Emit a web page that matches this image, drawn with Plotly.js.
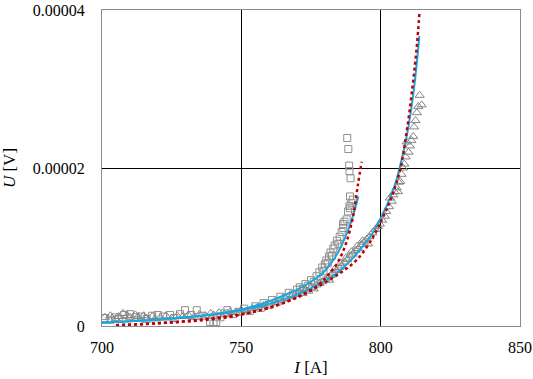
<!DOCTYPE html>
<html>
<head>
<meta charset="utf-8">
<script src="https://cdn.plot.ly/plotly-3.0.1.min.js"></script>
<style>
  html, body { margin: 0; padding: 0; background: #fff; }
  #myGraph { width: 533px; height: 379px; }
</style>
</head>
<body>
<div id="myGraph"></div>
<script>
// measured points, U in microvolt (converted to V below)
let squareI = [701, 703, 704.7, 706, 708, 710, 712, 714, 716, 718, 720, 722, 724.4, 726, 728, 729.8, 732, 734, 736, 738.8,
    740, 741, 742.5, 744, 745, 747, 749, 751, 753, 755, 757, 758, 760, 761, 763, 764, 766, 767, 768.5, 770,
    771, 772, 773, 774, 775, 776, 777, 778, 779, 779.5, 780, 780.5, 781, 781.5, 782, 782.5, 783, 783.5, 784.3, 784.8,
    785.3, 786, 786.6, 786.5, 787, 787.8, 788.3, 788.8, 789, 789.5, 789, 790, 789.2, 788.8, 788.7, 788.4, 788.0];
let squareU = [1.0, 0.8, 1.1, 0.9, 1.4, 1.5, 1.1, 1.2, 0.9, 1.3, 1.4, 1.2, 1.4, 1.0, 1.5, 2.0, 1.4, 2.0, 1.3, 0.5,
    0.3, 0.5, 1.1, 1.6, 2.0, 1.5, 1.8, 2.2, 1.9, 2.5, 2.3, 2.9, 2.7, 3.3, 3.1, 3.7, 3.6, 4.2, 4.0, 4.6,
    4.9, 4.7, 5.3, 5.1, 5.8, 5.6, 6.3, 6.8, 7.4, 7.0, 7.8, 8.3, 8.0, 8.8, 9.3, 8.9, 9.8, 10.2, 10.8, 10.4,
    11.3, 11.9, 12.4, 12.9, 13.2, 13.5, 14.5, 15.2, 14.9, 15.6, 16.4, 16.0, 18.7, 19.6, 20.3, 22.4, 23.8];

let triI = [701, 703, 705, 706, 707.5, 709, 710, 712, 713, 715, 716, 718, 719, 721, 723, 725, 727, 729, 731, 733,
    735, 737, 739, 740, 742, 744, 746, 748, 750, 752, 754, 756, 758, 760, 762, 764, 766, 768, 770, 771,
    772, 773, 774, 775, 776, 777, 778, 779, 780, 781, 781.5, 782, 783, 783.5, 784, 785, 785.5, 786, 787, 787.5,
    788, 789, 789.5, 790, 791, 791.5, 792, 793, 793.5, 794, 795, 795.5, 796, 797, 798, 799, 799.7, 800.5, 801.5, 802,
    803, 803.3, 804, 804.5, 805, 805.7, 806.2, 806.5, 807, 807.5, 808, 808.5, 809, 809.3, 810, 810.5, 811, 811.7, 812, 812.5,
    813, 813.5, 814, 814.7];
let triU = [1.1, 1.3, 0.9, 1.2, 1.6, 1.3, 1.1, 1.4, 1.2, 1.3, 1.0, 1.2, 0.9, 1.1, 1.3, 1.0, 1.3, 1.2, 1.4, 1.1,
    1.5, 1.3, 1.6, 1.4, 1.7, 1.5, 1.8, 1.7, 2.0, 1.9, 2.2, 2.4, 2.6, 2.8, 3.0, 3.2, 3.5, 3.7, 4.0, 4.3,
    4.1, 4.6, 4.4, 4.9, 4.7, 5.2, 5.4, 5.6, 5.9, 6.1, 5.8, 6.4, 6.7, 7.2, 7.0, 7.4, 7.9, 7.6, 8.1, 8.6,
    8.4, 8.9, 9.4, 9.1, 9.6, 10.1, 9.8, 10.3, 10.8, 10.6, 11.0, 10.4, 11.3, 11.8, 12.2, 12.6, 12.9, 13.4, 13.9, 14.5,
    15.1, 16.2, 15.8, 16.6, 17.0, 17.5, 17.0, 18.2, 18.3, 19.2, 20.0, 20.5, 21.4, 23.3, 22.0, 22.8, 23.5, 24.0, 25.2, 26.0,
    27.0, 27.8, 29.2, 28.0];

// fitted curves
let fitSqI = [700, 710, 720, 730, 740, 750, 758, 764, 770, 775, 780, 784, 787, 789.5, 792];
let fitSqU = [0.4, 0.6, 0.8, 1.1, 1.5, 2.1, 2.9, 3.7, 4.6, 5.6, 7.0, 8.9, 11.0, 13.3, 16.4];
let modelSqI = [705, 715, 725, 735, 745, 752, 760, 767, 772, 777, 781, 784.5, 787.5, 790, 791.8, 793.2];
let modelSqU = [0.1, 0.25, 0.45, 0.7, 1.1, 1.6, 2.3, 3.2, 4.0, 5.0, 6.4, 8.0, 10.4, 13.7, 17.8, 20.8];

let fitTriI = [700, 710, 720, 730, 740, 750, 760, 768, 775, 780, 785, 790, 794, 797, 800, 803, 805.5, 808, 810, 812, 813.9];
let fitTriU = [0.4, 0.6, 0.8, 1.1, 1.5, 2.0, 2.8, 3.7, 4.8, 5.7, 6.9, 8.6, 10.3, 11.7, 13.6, 15.9, 18.3, 21.8, 25.3, 30.2, 36.7];
let modelTriI = [705, 720, 735, 750, 760, 770, 777, 785, 791.5, 797, 801, 804, 807, 809.5, 811.5, 813, 813.9];
let modelTriU = [0.1, 0.35, 0.8, 1.5, 2.3, 3.6, 4.9, 6.6, 8.4, 11.1, 13.9, 16.4, 19.8, 25.0, 30.5, 35.5, 39.6];

let xTicks = [700, 750, 800, 850];
let yTicks = [0, 0.00002, 0.00004];
let yTickText = ['0', '0.00002', '0.00004'];

function toV(list) {
    return list.map(function (u) { return u * 1e-6; });
}

let myGraph = document.getElementById('myGraph');

let trace1 = {
    type: 'scatter', mode: 'markers', x: squareI, y: toV(squareU),
    marker: { symbol: 'square-open', size: 7, color: '#8f8f8f', line: { width: 1 } }
};
let trace2 = {
    type: 'scatter', mode: 'markers', x: triI, y: toV(triU),
    marker: { symbol: 'triangle-up-open', size: 8, color: '#858585', line: { width: 1 } }
};
let trace3 = {
    type: 'scatter', mode: 'lines', x: fitSqI, y: toV(fitSqU),
    line: { color: '#19a7e0', width: 2, shape: 'spline' }
};
let trace4 = {
    type: 'scatter', mode: 'lines', x: fitTriI, y: toV(fitTriU),
    line: { color: '#19a7e0', width: 2, shape: 'spline' }
};
let trace5 = {
    type: 'scatter', mode: 'lines', x: modelSqI, y: toV(modelSqU),
    line: { color: '#c00000', width: 2.5, dash: 'dot', shape: 'spline' }
};
let trace6 = {
    type: 'scatter', mode: 'lines', x: modelTriI, y: toV(modelTriU),
    line: { color: '#c00000', width: 2.5, dash: 'dot', shape: 'spline' }
};

let data = [trace1, trace2, trace3, trace4, trace5, trace6];

let layout = {
    width: 533,
    height: 379,
    margin: { l: 102, r: 13, t: 10, b: 53 },
    showlegend: false,
    paper_bgcolor: '#fff',
    plot_bgcolor: '#fff',
    font: { family: '"Liberation Serif", "Times New Roman", serif', size: 16, color: '#000' },
    xaxis: {
        range: [700, 850],
        tickvals: xTicks,
        ticks: '',
        ticklabelstandoff: 7,
        showgrid: true,
        gridcolor: '#000',
        gridwidth: 1,
        zeroline: false,
        showline: true,
        mirror: true,
        linecolor: '#8c8c8c',
        linewidth: 1,
        title: { text: '<i>I</i> [A]', standoff: 5, font: { size: 17 } }
    },
    yaxis: {
        range: [0, 0.00004],
        tickvals: yTicks,
        ticktext: yTickText,
        ticks: '',
        ticklabelstandoff: 13,
        ticklabeloverflow: 'allow',
        showgrid: true,
        gridcolor: '#000',
        gridwidth: 1,
        zeroline: false,
        showline: true,
        mirror: true,
        linecolor: '#8c8c8c',
        linewidth: 1,
        title: { text: '<i>U</i> [V]', standoff: 18, font: { size: 17 } }
    }
};

Plotly.newPlot(myGraph, data, layout, { displayModeBar: false, staticPlot: true });
</script>
</body>
</html>
